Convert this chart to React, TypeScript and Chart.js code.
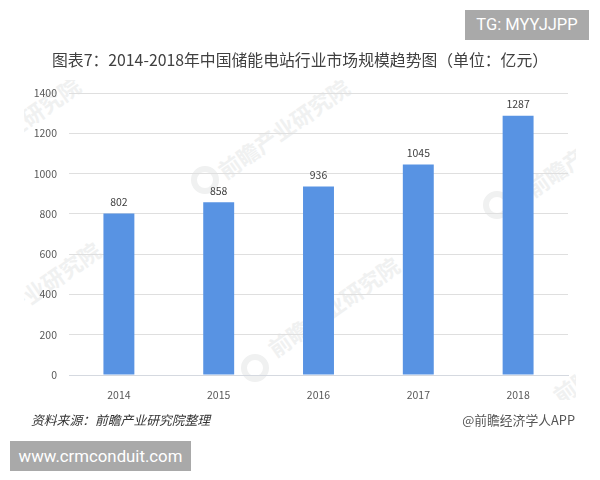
import { useEffect, useRef } from 'react'
import { Chart, registerables } from 'chart.js'

Chart.register(...registerables)

const years = ['2014', '2015', '2016', '2017', '2018']
const marketSize = [802, 858, 936, 1045, 1287]

const titleText = '图表7：2014-2018年中国储能电站行业市场规模趋势图（单位：亿元）'
const sourceText = '资料来源：前瞻产业研究院整理'
const creditText = '@前瞻经济学人APP'
const topBadge = 'TG: MYYJJPP'
const bottomBadge = 'www.crmconduit.com'
const watermarkText = '前瞻产业研究院'

const FONT = '"Noto Sans CJK SC", "Noto Sans", sans-serif'

// Faint diagonal stamps behind the plot, clipped to the pasted image area
const stamps = [
  { x: -49, y: 170 },
  { x: 220, y: 172 },
  { x: -29, y: 335 },
  { x: 270, y: 350 },
  { x: 528, y: 190 },
  { x: 555, y: 397 },
]
const stampLogos = [
  { x: 205, y: 180 },
  { x: 255, y: 368 },
  { x: 497, y: 205 },
]

// Value labels above each bar
const barLabels = {
  id: 'barLabels',
  afterDatasetsDraw(chart: Chart) {
    const { ctx } = chart
    const meta = chart.getDatasetMeta(0)
    ctx.save()
    ctx.font = `10.5px ${FONT}`
    ctx.fillStyle = '#404040'
    ctx.textAlign = 'center'
    ctx.textBaseline = 'bottom'
    meta.data.forEach((bar, i) => {
      ctx.fillText(String(marketSize[i]), bar.x, bar.y - 6)
    })
    ctx.restore()
  },
}

export default function App() {
  const chartRef = useRef<HTMLCanvasElement>(null)

  useEffect(() => {
    document.body.style.margin = '0'
    const ctx = chartRef.current?.getContext('2d')
    if (!ctx) return

    const chart = new Chart(ctx, {
      type: 'bar',
      data: {
        labels: years,
        datasets: [
          {
            data: marketSize,
            backgroundColor: '#5893e3',
            barPercentage: 0.62,
            categoryPercentage: 0.5,
          },
        ],
      },
      options: {
        responsive: false,
        animation: false,
        layout: { padding: { top: 93, right: 32, bottom: 75, left: 0 } },
        plugins: { legend: { display: false }, tooltip: { enabled: false } },
        scales: {
          x: {
            afterFit: scale => {
              scale.height = 30
            },
            grid: { display: false },
            border: { color: '#d5d9e0' },
            ticks: { color: '#595959', font: { size: 10.5, family: FONT }, padding: 6, maxRotation: 0 },
          },
          y: {
            min: 0,
            max: 1400,
            afterFit: scale => {
              scale.width = 69
            },
            grid: { color: '#dfdfdf', drawTicks: false },
            border: { display: false },
            ticks: {
              stepSize: 200,
              color: '#595959',
              font: { size: 10.5, family: FONT },
              padding: 12,
              callback: value => String(value),
            },
          },
        },
      },
      plugins: [barLabels],
    })

    return () => {
      chart.destroy()
    }
  }, [])

  return (
    <div style={{ position: 'relative', width: 600, height: 480, overflow: 'hidden', background: '#fff', fontFamily: FONT }}>
      <div style={{ position: 'absolute', left: 24, top: 80, width: 552, height: 320, overflow: 'hidden' }}>
        {stamps.map((s, i) => (
          <div
            key={i}
            style={{
              position: 'absolute',
              left: s.x - 24,
              top: s.y - 80 - 14,
              fontSize: 22,
              lineHeight: '28px',
              fontWeight: 700,
              color: '#f0f1f1',
              whiteSpace: 'nowrap',
              transformOrigin: 'left center',
              transform: 'rotate(-35deg)',
            }}
          >
            {watermarkText}
          </div>
        ))}
        {stampLogos.map((l, i) => (
          <div
            key={i}
            style={{
              position: 'absolute',
              left: l.x - 24 - 14,
              top: l.y - 80 - 14,
              width: 16,
              height: 16,
              border: '6px solid #f0f1f1',
              borderRadius: '50%',
            }}
          />
        ))}
      </div>
      <canvas ref={chartRef} width={600} height={480} style={{ position: 'absolute', left: 0, top: 0 }} />
      <div style={{ position: 'absolute', left: 465, top: 10, width: 124, height: 30, background: '#a9a9a9', color: '#fff', fontSize: 16.5, lineHeight: '30px', textAlign: 'center', fontFamily: 'Roboto, sans-serif' }}>
        {topBadge}
      </div>
      <div style={{ position: 'absolute', left: 52, top: 49, fontSize: 15.83, lineHeight: '22px', color: '#404040', whiteSpace: 'nowrap' }}>
        {titleText}
      </div>
      <div style={{ position: 'absolute', left: 31, top: 411, fontSize: 12.8, lineHeight: '18px', fontStyle: 'italic', color: '#333', whiteSpace: 'nowrap' }}>
        {sourceText}
      </div>
      <div style={{ position: 'absolute', right: 25, top: 411, fontSize: 12.8, lineHeight: '18px', color: '#555', whiteSpace: 'nowrap' }}>
        {creditText}
      </div>
      <div style={{ position: 'absolute', left: 10, top: 441, width: 181, height: 30, background: '#a9a9a9', color: '#fff', fontSize: 16.8, lineHeight: '30px', textAlign: 'center', fontFamily: 'Roboto, sans-serif' }}>
        {bottomBadge}
      </div>
    </div>
  )
}
